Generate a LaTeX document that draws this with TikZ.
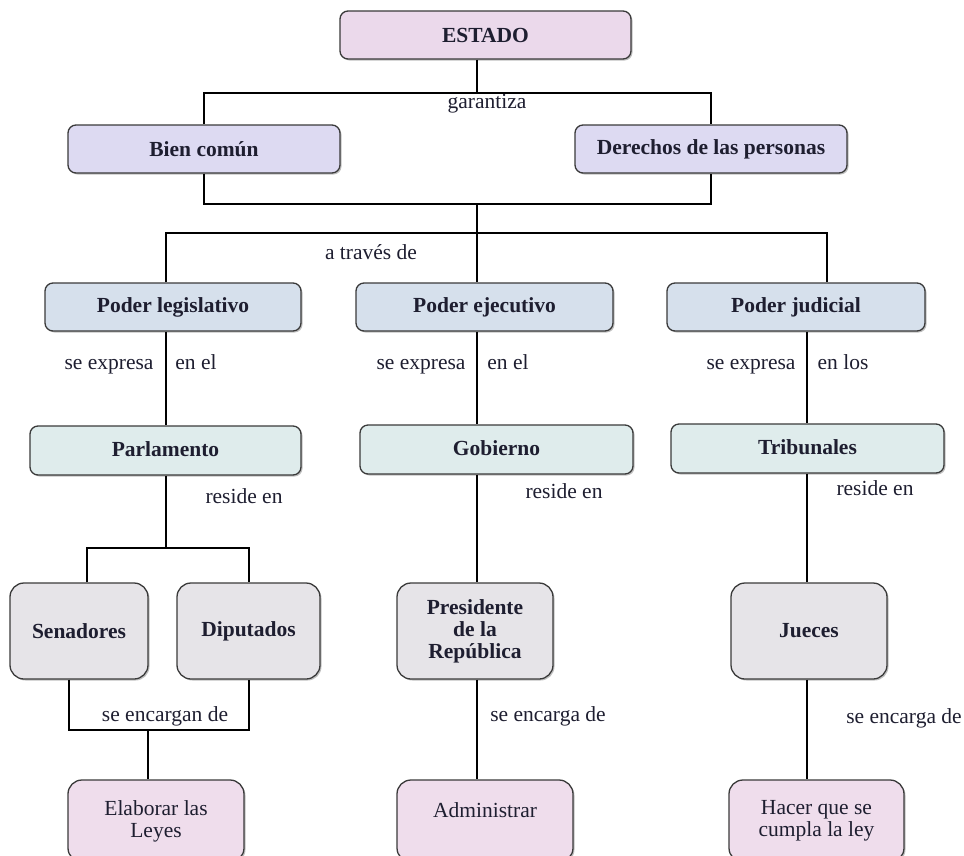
\documentclass[tikz,border=0pt]{standalone}
\usepackage{fontspec}
\setmainfont{Liberation Serif}
\usetikzlibrary{shadows,scopes}
\definecolor{cestado}{HTML}{EBD9EB}
\definecolor{cbien}{HTML}{DDDAF2}
\definecolor{cpoder}{HTML}{D6E0EC}
\definecolor{corgano}{HTML}{DFECEC}
\definecolor{cpersona}{HTML}{E6E4E8}
\definecolor{ctarea}{HTML}{EFDDEC}
\definecolor{boxline}{HTML}{3A3A3A}
\definecolor{ink}{HTML}{1E1E30}
\begin{document}
\begin{tikzpicture}[x=1pt, y=-1pt,
		box/.style={draw=boxline, line width=1.3pt, rounded corners=8pt, inner sep=0pt, align=center, text=ink,
			font=\fontsize{21.5}{22}\selectfont\bfseries,
			drop shadow={shadow xshift=1.5pt, shadow yshift=-1.5pt, fill=black!50, opacity=.5}},
		tag/.style={inner sep=0pt, text=ink, text height=1.5ex, text depth=.25ex, yshift=-4pt, font=\fontsize{21.5}{22}\selectfont}]
	\useasboundingbox (0,0) rectangle (964,855);

	{ [nodes={box, minimum height=48pt}]
		\node[fill=cestado, minimum width=291pt] (estado) at (485.5,35) {ESTADO};
		\node[fill=cbien, minimum width=272pt] (bien) at (204,149) {Bien común};
		\node[fill=cbien, minimum width=272pt] (derechos) at (711,149) {Derechos de las personas};
		\node[fill=cpoder, minimum width=256pt] (legis) at (173,307) {Poder legislativo};
		\node[fill=cpoder, minimum width=257pt] (ejec) at (484.5,307) {Poder ejecutivo};
		\node[fill=cpoder, minimum width=258pt] (judic) at (796,307) {Poder judicial};
	}

	{ [nodes={box, minimum height=49pt, fill=corgano, text depth=3pt}]
		\node[minimum width=271pt] (parl) at (165.5,450.5) {Parlamento};
		\node[minimum width=273pt] (gob) at (496.5,449.5) {Gobierno};
		\node[minimum width=273pt] (trib) at (807.5,448.5) {Tribunales};
	}

	{ [nodes={box, minimum height=96pt, fill=cpersona, rounded corners=14pt}]
		\node[minimum width=138pt] (sen) at (79,631) {Senadores};
		\node[minimum width=143pt] (dip) at (248.5,631) {Diputados};
		\node[minimum width=156pt] (pres) at (475,631) {Presidente\\de la\\República};
		\node[minimum width=156pt] (jue) at (809,631) {Jueces};
	}

	{ [nodes={box, minimum height=82pt, fill=ctarea, rounded corners=14pt, font=\fontsize{21.5}{22}\selectfont}]
		\node[minimum width=176pt] (elab) at (156,821) {Elaborar las\\Leyes};
		\node[minimum width=176pt] (admin) at (485,821) {Administrar\\\mbox{}};
		\node[minimum width=175pt] (hacer) at (816.5,821) {Hacer que se\\cumpla la ley};
	}

	\coordinate (g1) at (477,93);
	\coordinate (g2) at (477,204);
	\coordinate (t1) at (166,233);
	\coordinate (t2) at (477,233);
	\coordinate (t3) at (827,233);
	\coordinate (jv) at (807,548);
	\coordinate (s0) at (166,548);
	\coordinate (s1) at (87,548);
	\coordinate (s2) at (249,548);
	\coordinate (e0) at (148,730);
	\coordinate (e1) at (69,730);
	\coordinate (e2) at (249,730);

	{ [line width=1.2pt]
		\draw (estado.south -| g1) -- (g1);
		\draw (bien.north) |- (g1) -| (derechos.north);
		\draw (bien.south) |- (g2) -| (derechos.south);
		\draw (g2) -- (g2 |- ejec.north);
		\draw (t1 |- legis.north) -- (t1) -- (t3) -- (t3 |- judic.north);

		\draw (legis.south -| t1) -- (t1 |- parl.north);
		\draw (ejec.south -| t2) -- (t2 |- gob.north);
		\draw (judic.south -| jv) -- (jv |- trib.north);

		\draw (parl.south -| s0) -- (s0);
		\draw (s1 |- sen.north) -- (s1) -- (s2) -- (s2 |- dip.north);
		\draw (gob.south -| t2) -- (t2 |- pres.north);
		\draw (trib.south -| jv) -- (jv |- jue.north);

		\draw (e1 |- sen.south) -- (e1) -- (e2) -- (e2 |- dip.south);
		\draw (e0) -- (e0 |- elab.north);
		\draw (pres.south -| t2) -- (t2 |- admin.north);
		\draw (jue.south -| jv) -- (jv |- hacer.north);
	}

	{ [nodes=tag]
		\node (garantiza) at (487,102) {garantiza};
		\node (traves) at (371,253) {a través de};
		\node (expl) at (109,363) {se expresa};
		\node (enl) at (196,363) {en el};
		\node (expe) at (421,363) {se expresa};
		\node (ene) at (508,363) {en el};
		\node (expj) at (751,363) {se expresa};
		\node (enj) at (843,363) {en los};
		\node (resl) at (244,497) {reside en};
		\node (rese) at (564,492) {reside en};
		\node (resj) at (875,489) {reside en};
		\node (encl) at (165,715) {se encargan de};
		\node (ence) at (548,715) {se encarga de};
		\node (encj) at (904,717) {se encarga de};
	}
\end{tikzpicture}
\end{document}
